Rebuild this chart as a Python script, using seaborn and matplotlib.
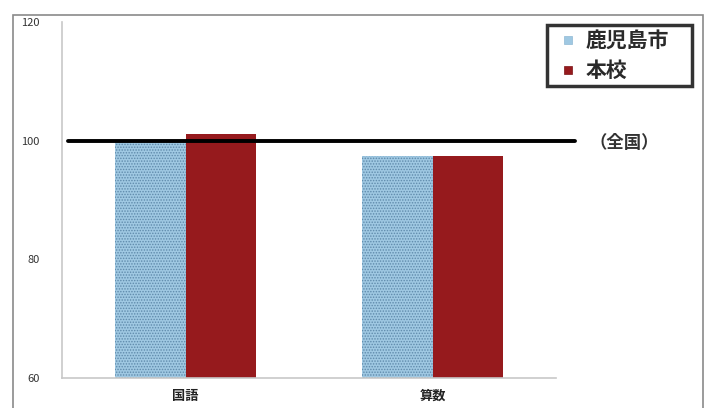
import matplotlib
matplotlib.use("Agg")
import matplotlib.pyplot as plt
import seaborn as sns
import pandas as pd
from matplotlib.patches import Rectangle
from matplotlib.lines import Line2D

subjects = ["国語", "算数"]
series = ["鹿児島市", "本校"]
kagoshima = [100.0, 97.5]
honkou = [101.2, 97.5]
national = 100
national_label = "（全国）"
yticks = [60, 80, 100, 120]

df = pd.DataFrame({
    "教科": subjects * 2,
    "区分": [series[0]] * 2 + [series[1]] * 2,
    "値": kagoshima + honkou,
})

sns.set_theme(style="white")
plt.rcParams["font.family"] = ["Noto Sans CJK JP", "DejaVu Sans"]
plt.rcParams["hatch.linewidth"] = 0.7

fig = plt.figure(figsize=(7.12, 4.08), dpi=100)
W, H = 712, 408
ax = fig.add_axes([62 / W, 1 - 378 / H, (556 - 62) / W, (378 - 22) / H])

colors = {"鹿児島市": "#9fc8e2", "本校": "#961a1d"}
sns.barplot(data=df, x="教科", y="値", hue="区分", palette=colors,
            width=0.57, ax=ax, legend=False, saturation=1)

for bar in ax.patches[:2]:
    bar.set_hatch("......")
    bar.set_edgecolor("#5f8aab")
    bar.set_linewidth(0)
for bar in ax.patches[2:]:
    bar.set_edgecolor("#7a1215")
    bar.set_linewidth(0)

ax.set_ylim(60, 120)
ax.set_xlim(-0.5, 1.5)
ax.set_yticks(yticks)
ax.set_yticklabels([str(v) for v in yticks], fontsize=8, color="#333333")
ax.tick_params(axis="y", pad=16, length=0)
ax.tick_params(axis="x", pad=8, length=0)
ax.set_xticks(range(len(subjects)))
ax.set_xticklabels(subjects, fontsize=9.5, fontweight="bold", color="#222222")
ax.set_xlabel("")
ax.set_ylabel("")
for s in ["top", "right"]:
    ax.spines[s].set_visible(False)
for s in ["left", "bottom"]:
    ax.spines[s].set_color("#c8c8c8")
    ax.spines[s].set_linewidth(1.2)

ax.axhline(national, xmin=(68 - 62) / 494, xmax=(575 - 62) / 494,
           color="black", linewidth=2.8, clip_on=False, zorder=5)
ax.annotate(national_label, xy=(1.0, national), xycoords=("axes fraction", "data"),
            xytext=(24, -2), textcoords="offset points", fontsize=12.5,
            fontweight="bold", va="center", ha="left", color="#333333",
            annotation_clip=False)

handles = [Line2D([], [], linestyle="none", marker="s", markersize=6,
                  markerfacecolor=colors["鹿児島市"], markeredgecolor="#8fb8d4",
                  markeredgewidth=0.5),
           Line2D([], [], linestyle="none", marker="s", markersize=6,
                  markerfacecolor=colors["本校"], markeredgecolor="#7a1215",
                  markeredgewidth=0.5)]
leg = fig.legend(handles, series, loc="upper left", mode="expand",
                 bbox_to_anchor=(547 / W, 1 - 88 / H, 145 / W, 63 / H), fontsize=15,
                 frameon=True, fancybox=False, handlelength=1.5,
                 handletextpad=0.1, labelspacing=0.42, borderpad=0.25,
                 borderaxespad=0)
leg.get_frame().set_edgecolor("black")
leg.get_frame().set_linewidth(2.5)
for t in leg.get_texts():
    t.set_fontweight("bold")
    t.set_color("#2a2a2a")

frame = Rectangle((13 / W, -0.02), (703 - 13) / W, (H - 15) / H + 0.02,
                  transform=fig.transFigure, fill=False, edgecolor="#8a8a8a",
                  linewidth=1.2, clip_on=False)
fig.patches.append(frame)

fig.savefig("out.png", dpi=100)
